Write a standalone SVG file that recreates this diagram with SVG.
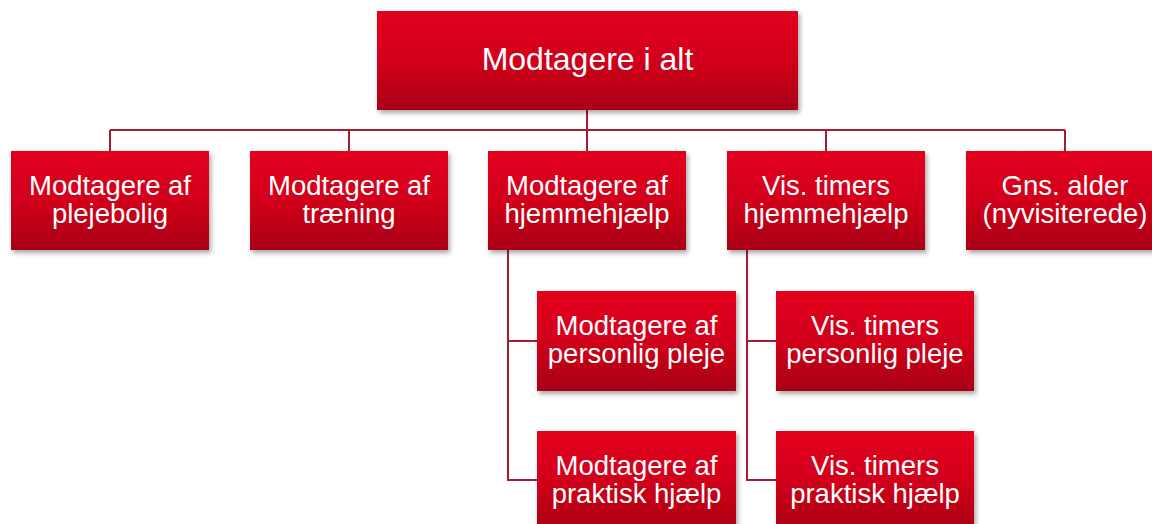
<svg xmlns="http://www.w3.org/2000/svg" width="1152" height="524" viewBox="0 0 1152 524">
<style>
.box{fill:url(#g);filter:url(#sh)}
.t{font-family:"Liberation Sans",Arial,sans-serif;font-size:27.5px;fill:#fff;text-anchor:middle}
.tt{font-size:32px}
.c{fill:none;stroke:#a51c35;stroke-width:2}
</style>
<defs>
<linearGradient id="g" x1="0" y1="0" x2="0" y2="1">
<stop offset="0" stop-color="#e2001a"/>
<stop offset="0.5" stop-color="#d2001a"/>
<stop offset="1" stop-color="#a80016"/>
</linearGradient>
<filter id="sh" x="-10%" y="-10%" width="125%" height="130%">
<feDropShadow dx="2" dy="3" stdDeviation="2.5" flood-color="#000" flood-opacity="0.35"/>
</filter>
</defs>
<rect width="1152" height="524" fill="#fff"/>
<g id="connectors">
<path class="c" d="M587 110V151M110 130H1065M110 130V151M349 130V151M587 130V151M826 130V151M1065 130V151"/>
<path class="c" d="M508 250V480H537M508 341H537"/>
<path class="c" d="M747 250V480H776M747 341H776"/>
</g>
<g id="n0"><rect class="box" x="377" y="11" width="421" height="99"/><text class="t tt" x="587.5" y="70">Modtagere i alt</text></g>
<g id="n1"><rect class="box" x="11" y="151" width="198" height="99"/><text class="t" x="110" y="195">Modtagere af</text><text class="t" x="110" y="223">plejebolig</text></g>
<g id="n2"><rect class="box" x="250" y="151" width="198" height="99"/><text class="t" x="349" y="195">Modtagere af</text><text class="t" x="349" y="223">træning</text></g>
<g id="n3"><rect class="box" x="488" y="151" width="198" height="99"/><text class="t" x="587" y="195">Modtagere af</text><text class="t" x="587" y="223">hjemmehjælp</text></g>
<g id="n4"><rect class="box" x="727" y="151" width="198" height="99"/><text class="t" x="826" y="195">Vis. timers</text><text class="t" x="826" y="223">hjemmehjælp</text></g>
<g id="n5"><rect class="box" x="966" y="151" width="198" height="99"/><text class="t" x="1065" y="195">Gns. alder</text><text class="t" x="1065" y="223">(nyvisiterede)</text></g>
<g id="n6"><rect class="box" x="537" y="291" width="199" height="100"/><text class="t" x="636.5" y="335">Modtagere af</text><text class="t" x="636.5" y="363">personlig pleje</text></g>
<g id="n7"><rect class="box" x="537" y="431" width="199" height="100"/><text class="t" x="636.5" y="475">Modtagere af</text><text class="t" x="636.5" y="503">praktisk hjælp</text></g>
<g id="n8"><rect class="box" x="776" y="291" width="198" height="100"/><text class="t" x="875" y="335">Vis. timers</text><text class="t" x="875" y="363">personlig pleje</text></g>
<g id="n9"><rect class="box" x="776" y="431" width="198" height="100"/><text class="t" x="875" y="475">Vis. timers</text><text class="t" x="875" y="503">praktisk hjælp</text></g>
</svg>
